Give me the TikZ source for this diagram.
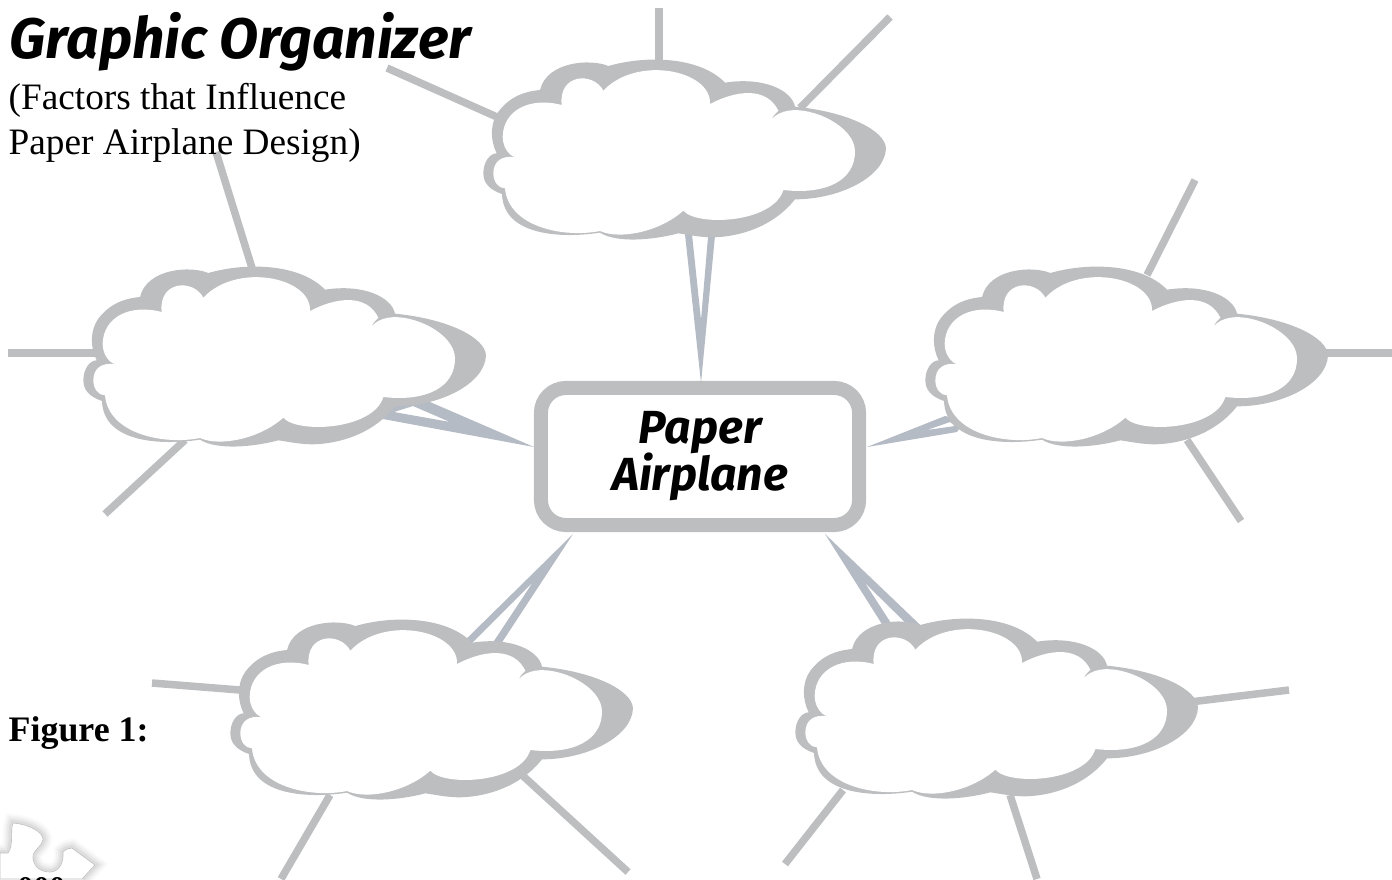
\documentclass[tikz,border=0pt]{standalone}
\usepackage{fontspec}
\setmainfont{Liberation Serif}
\newfontfamily\handfont{Fira Sans}
\lineskiplimit=-100pt
\normallineskiplimit=-100pt
\definecolor{cloudgray}{HTML}{BCBEC0}
\definecolor{wedgeblue}{HTML}{B4BBC5}
\tikzset{
  spoke/.style={draw=cloudgray,line width=0.075cm},
  wedge/.style={fill=wedgeblue,even odd rule},
  headtext/.style={anchor=base west,inner sep=0pt,font=\handfont\bfseries\itshape\fontsize{16.2}{17}\selectfont},
  subtext/.style={anchor=base west,inner sep=0pt,font=\fontsize{10.6}{12.8}\selectfont,align=left},
  puffy/.pic={
    \begin{scope}[scale=1/3]
    \fill[cloudgray] (55,215) .. controls (90,170) and (130,155) .. (180,150)
      .. controls (200,65) and (330,55) .. (385,78)
      .. controls (500,45) and (660,50) .. (735,128)
      .. controls (850,110) and (935,150) .. (945,200)
      .. controls (1100,215) and (1215,270) .. (1218,325)
      .. controls (1215,410) and (1080,478) .. (945,478)
      .. controls (880,560) and (780,590) .. (700,592)
      .. controls (660,592) and (630,585) .. (595,580)
      .. controls (520,600) and (410,610) .. (360,578)
      .. controls (250,595) and (70,590) .. (66,462)
      .. controls (30,450) and (10,430) .. (10,400)
      .. controls (10,365) and (30,340) .. (50,340)
      .. controls (30,300) and (30,250) .. (55,215) -- cycle;
    \fill[white] (245,195) .. controls (150,170) and (70,210) .. (68,290)
      .. controls (68,320) and (85,345) .. (105,352)
      .. controls (65,345) and (40,365) .. (40,400)
      .. controls (40,425) and (55,445) .. (75,445)
      .. controls (85,560) and (250,595) .. (360,573)
      .. controls (420,600) and (540,575) .. (610,512)
      .. controls (650,560) and (880,550) .. (910,450)
      .. controls (1040,465) and (1125,420) .. (1125,335)
      .. controls (1125,260) and (1000,200) .. (925,212)
      .. controls (905,215) and (885,225) .. (875,238)
      .. controls (880,225) and (890,218) .. (895,212)
      .. controls (860,140) and (770,150) .. (690,192)
      .. controls (695,90) and (470,45) .. (370,152)
      .. controls (340,95) and (235,100) .. (245,195) -- cycle;
    \end{scope}
  }
}
\begin{document}
\begin{tikzpicture}[x=0.01cm,y=-0.01cm]
\useasboundingbox (0,0) rectangle (1392,879);

% ends of the spokes
\coordinate (ta1) at (659,60);   \coordinate (ta2) at (659,8);
\coordinate (tb1) at (800,108);  \coordinate (tb2) at (890,17);
\coordinate (tc1) at (497,117);  \coordinate (tc2) at (387,68);
\coordinate (la1) at (252,268);  \coordinate (la2) at (216,152);
\coordinate (lb1) at (95,353);   \coordinate (lb2) at (8,353);
\coordinate (lc1) at (185,440);  \coordinate (lc2) at (105,514);
\coordinate (ra1) at (1147,275); \coordinate (ra2) at (1195,180);
\coordinate (rb1) at (1325,353); \coordinate (rb2) at (1392,353);
\coordinate (rc1) at (1187,440); \coordinate (rc2) at (1241,521);
\coordinate (pa1) at (240,690);  \coordinate (pa2) at (152,683);
\coordinate (pb1) at (330,795);  \coordinate (pb2) at (281,879);
\coordinate (pc1) at (522,775);  \coordinate (pc2) at (628,872);
\coordinate (qa1) at (843,790);  \coordinate (qa2) at (785,864);
\coordinate (qb1) at (1190,702); \coordinate (qb2) at (1289,690);
\coordinate (qc1) at (1010,795); \coordinate (qc2) at (1037,879);

\foreach \s in {ta,tb,tc,la,lb,lc,ra,rb,rc,pa,pb,pc,qa,qb,qc}
  \draw[spoke] (\s1) -- (\s2);

% box in the middle, then the double wedges that start on it
\node[draw=cloudgray,line width=0.14cm,rounded corners=0.25cm,minimum width=3.18cm,minimum height=1.37cm,
  inner sep=0pt,align=center,font=\handfont\bfseries\itshape\fontsize{13.2}{13.4}\selectfont] (box) at (700,456.5) {Paper\\Airplane};

\coordinate (ttip) at (701,383);
\coordinate (ltip) at (534,447);
\coordinate (rtip) at (867,447);
\coordinate (ptip) at (573,534);
\coordinate (qtip) at (825,534);

\fill[wedge] (ttip) -- (716,225) -- (684,225) -- cycle (691,225) -- (709,225) -- (701,320) -- cycle;
\fill[wedge] (ltip) -- (383,419) -- (385,405) -- (430,402) -- cycle (394,412) -- (413,406) -- (450,422) -- cycle;
\fill[wedge] (rtip) -- (945,416) -- (965,420) -- (957,432) -- cycle (927,430) -- (950,422) -- (955,426) -- cycle;
\fill[wedge] (ptip) -- (455,650) -- (497,650) -- cycle (465,650) -- (488,650) -- (533,582) -- cycle;
\fill[wedge] (qtip) -- (892,640) -- (936,640) -- cycle (902,640) -- (923,640) -- (865,583) -- cycle;

% the five clouds
\pic (topcloud) at (480,40) {puffy};
\pic (leftcloud) at (80,247) {puffy};
\pic (rightcloud) at (922,247) {puffy};
\pic (lowleftcloud) at (227,600) {puffy};
\pic (lowrightcloud) at (792,599) {puffy};

\node[headtext] (heading) at (9,59) {Graphic Organizer};
\node[subtext] (factors) at (8,110) {(Factors that Influence};
\node[subtext] (design) at (8,155) {Paper Airplane Design)};
\node[subtext,font=\bfseries\fontsize{10.2}{12.8}\selectfont] (figlabel) at (8,741) {Figure 1:};

% puzzle piece in the corner
\foreach \w/\o in {18/.02,14/.03,10/.04,6/.05}
  \draw[black,opacity=\o,line width=\w*0.01cm] (0,853) -- (8,853) .. controls (14,845) and (10,830) .. (13,823)
    .. controls (28,824) and (44,832) .. (43,840) .. controls (42,847) and (32,850) .. (33,858)
    .. controls (34,868) and (42,872) .. (50,872) .. controls (58,872) and (64,864) .. (63,852)
    .. controls (66,849) and (69,848) .. (72,848) -- (95,865) -- (82,879);
\fill[white,draw=gray!50,line width=0.006cm] (0,853) -- (8,853) .. controls (14,845) and (10,830) .. (13,823)
    .. controls (28,824) and (44,832) .. (43,840) .. controls (42,847) and (32,850) .. (33,858)
    .. controls (34,868) and (42,872) .. (50,872) .. controls (58,872) and (64,864) .. (63,852)
    .. controls (66,849) and (69,848) .. (72,848) -- (95,865) -- (82,879) -- (0,879) -- cycle;
\node[anchor=north west,inner sep=0pt,font=\bfseries\fontsize{9}{9}\selectfont] (pagenum) at (17,876.5) {000};
\end{tikzpicture}
\end{document}
